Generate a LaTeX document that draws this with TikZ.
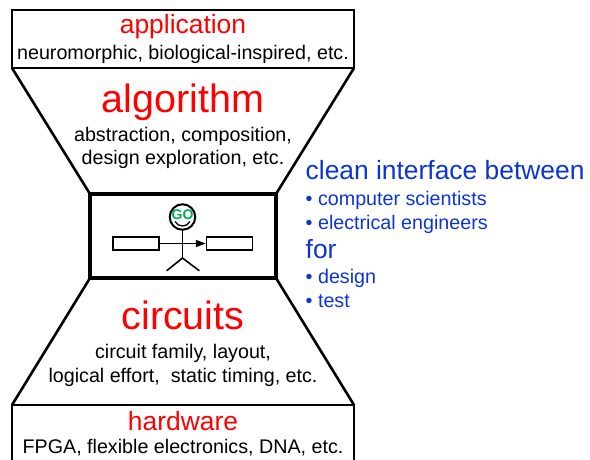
\documentclass[tikz,border=0pt]{standalone}
\usepackage{fontspec}
\setmainfont{Liberation Sans}
\usetikzlibrary{arrows.meta}
\definecolor{titlered}{RGB}{255,0,0}
\definecolor{noteblue}{RGB}{12,52,210}
\definecolor{gogreen}{RGB}{0,172,80}

\begin{document}
\begin{tikzpicture}[x=1pt,y=-1pt,
  frame/.style={line width=2.6pt, line join=miter},
  midframe/.style={line width=4pt, line join=miter},
  bigtitle/.style={anchor=base, inner sep=0, text=titlered, font=\fontsize{39.5}{40}\selectfont},
  midtitle/.style={anchor=base, inner sep=0, text=titlered, font=\fontsize{26.4}{28}\selectfont},
  caption/.style={anchor=base, inner sep=0, font=\fontsize{19.7}{23}\selectfont},
  note/.style={anchor=base west, inner sep=0, text=noteblue, font=\fontsize{19.7}{23}\selectfont},
  notehead/.style={anchor=base west, inner sep=0, text=noteblue, font=\fontsize{26.4}{28}\selectfont},
  block/.style={draw, line width=1.5pt, minimum width=46pt, minimum height=13pt, inner sep=0},
  limb/.style={line width=1.6pt, line cap=round},
]
\useasboundingbox (0,0) rectangle (590,459);

% hourglass outline
\coordinate (tl) at (12,10);   \coordinate (tr) at (354,10);
\coordinate (tbl) at (12,68);  \coordinate (tbr) at (354,68);
\coordinate (ml) at (90,194);  \coordinate (mr) at (276,194);
\coordinate (mbl) at (90,278); \coordinate (mbr) at (276,278);
\coordinate (bl) at (12,405);  \coordinate (br) at (354,405);
\coordinate (bfl) at (12,465); \coordinate (bfr) at (354,465);

\draw[frame] (tl) rectangle (tbr);
\draw[frame] (tbl) -- (ml);
\draw[frame] (tbr) -- (mr);
\draw[frame] (mbl) -- (bl);
\draw[frame] (mbr) -- (br);
\draw[frame] (bfl) -- (bl) -- (br) -- (bfr);
\draw[midframe] (ml) rectangle (mbr);

% layer labels
\node[midtitle] (app) at (183,33) {application};
\node[caption] (appd) at (183,59) {neuromorphic, biological-inspired, etc.};
\node[bigtitle] (alg) at (183,112) {algorithm};
\node[caption] (alg1) at (183,141) {abstraction, composition,};
\node[caption] (alg2) at (183,164) {design exploration, etc.};
\node[bigtitle] (cir) at (183,329) {circuits};
\node[caption] (cir1) at (183,358) {circuit family, layout,};
\node[caption] (cir2) at (183,382) {logical effort,\ \ static timing, etc.};
\node[midtitle] (hw) at (183,430) {hardware};
\node[caption] (hwd) at (183,453) {FPGA, flexible electronics, DNA, etc.};

% stick figure passing a block along
\node[block] (inblk) at (136,243.5) {};
\node[block] (outblk) at (229.5,243.5) {};
\node[circle, draw, line width=2pt, minimum size=25.5pt, inner sep=0] (head) at (182.5,217) {};
\node[inner sep=0, text=gogreen, font=\fontsize{14}{14}\bfseries\selectfont] (go) at (182.5,214.5) {GO};
\coordinate (smileL) at (175,221.5);
\coordinate (smileR) at (190,221.5);
\draw[line width=1.3pt] (smileL) .. controls (178,227.5) and (187,227.5) .. (smileR);
\coordinate (hip) at (182.5,258);
\coordinate (footL) at (167,270.5);
\coordinate (footR) at (199,270.5);
\draw[limb] (head.south) -- (hip);
\draw[limb] (footL) -- (hip) -- (footR);
\draw[line width=1.5pt, -{Triangle[length=10pt,width=7pt]}] (inblk.east) -- (outblk.west);

% side notes
\node[notehead] (n0) at (305.5,179) {clean interface between};
\node[note] (n1) at (305.5,205) {• computer scientists};
\node[note] (n2) at (305.5,229) {• electrical engineers};
\node[notehead] (n3) at (305.5,258) {for};
\node[note] (n4) at (305.5,283) {• design};
\node[note] (n5) at (305.5,307) {• test};
\end{tikzpicture}
\end{document}
